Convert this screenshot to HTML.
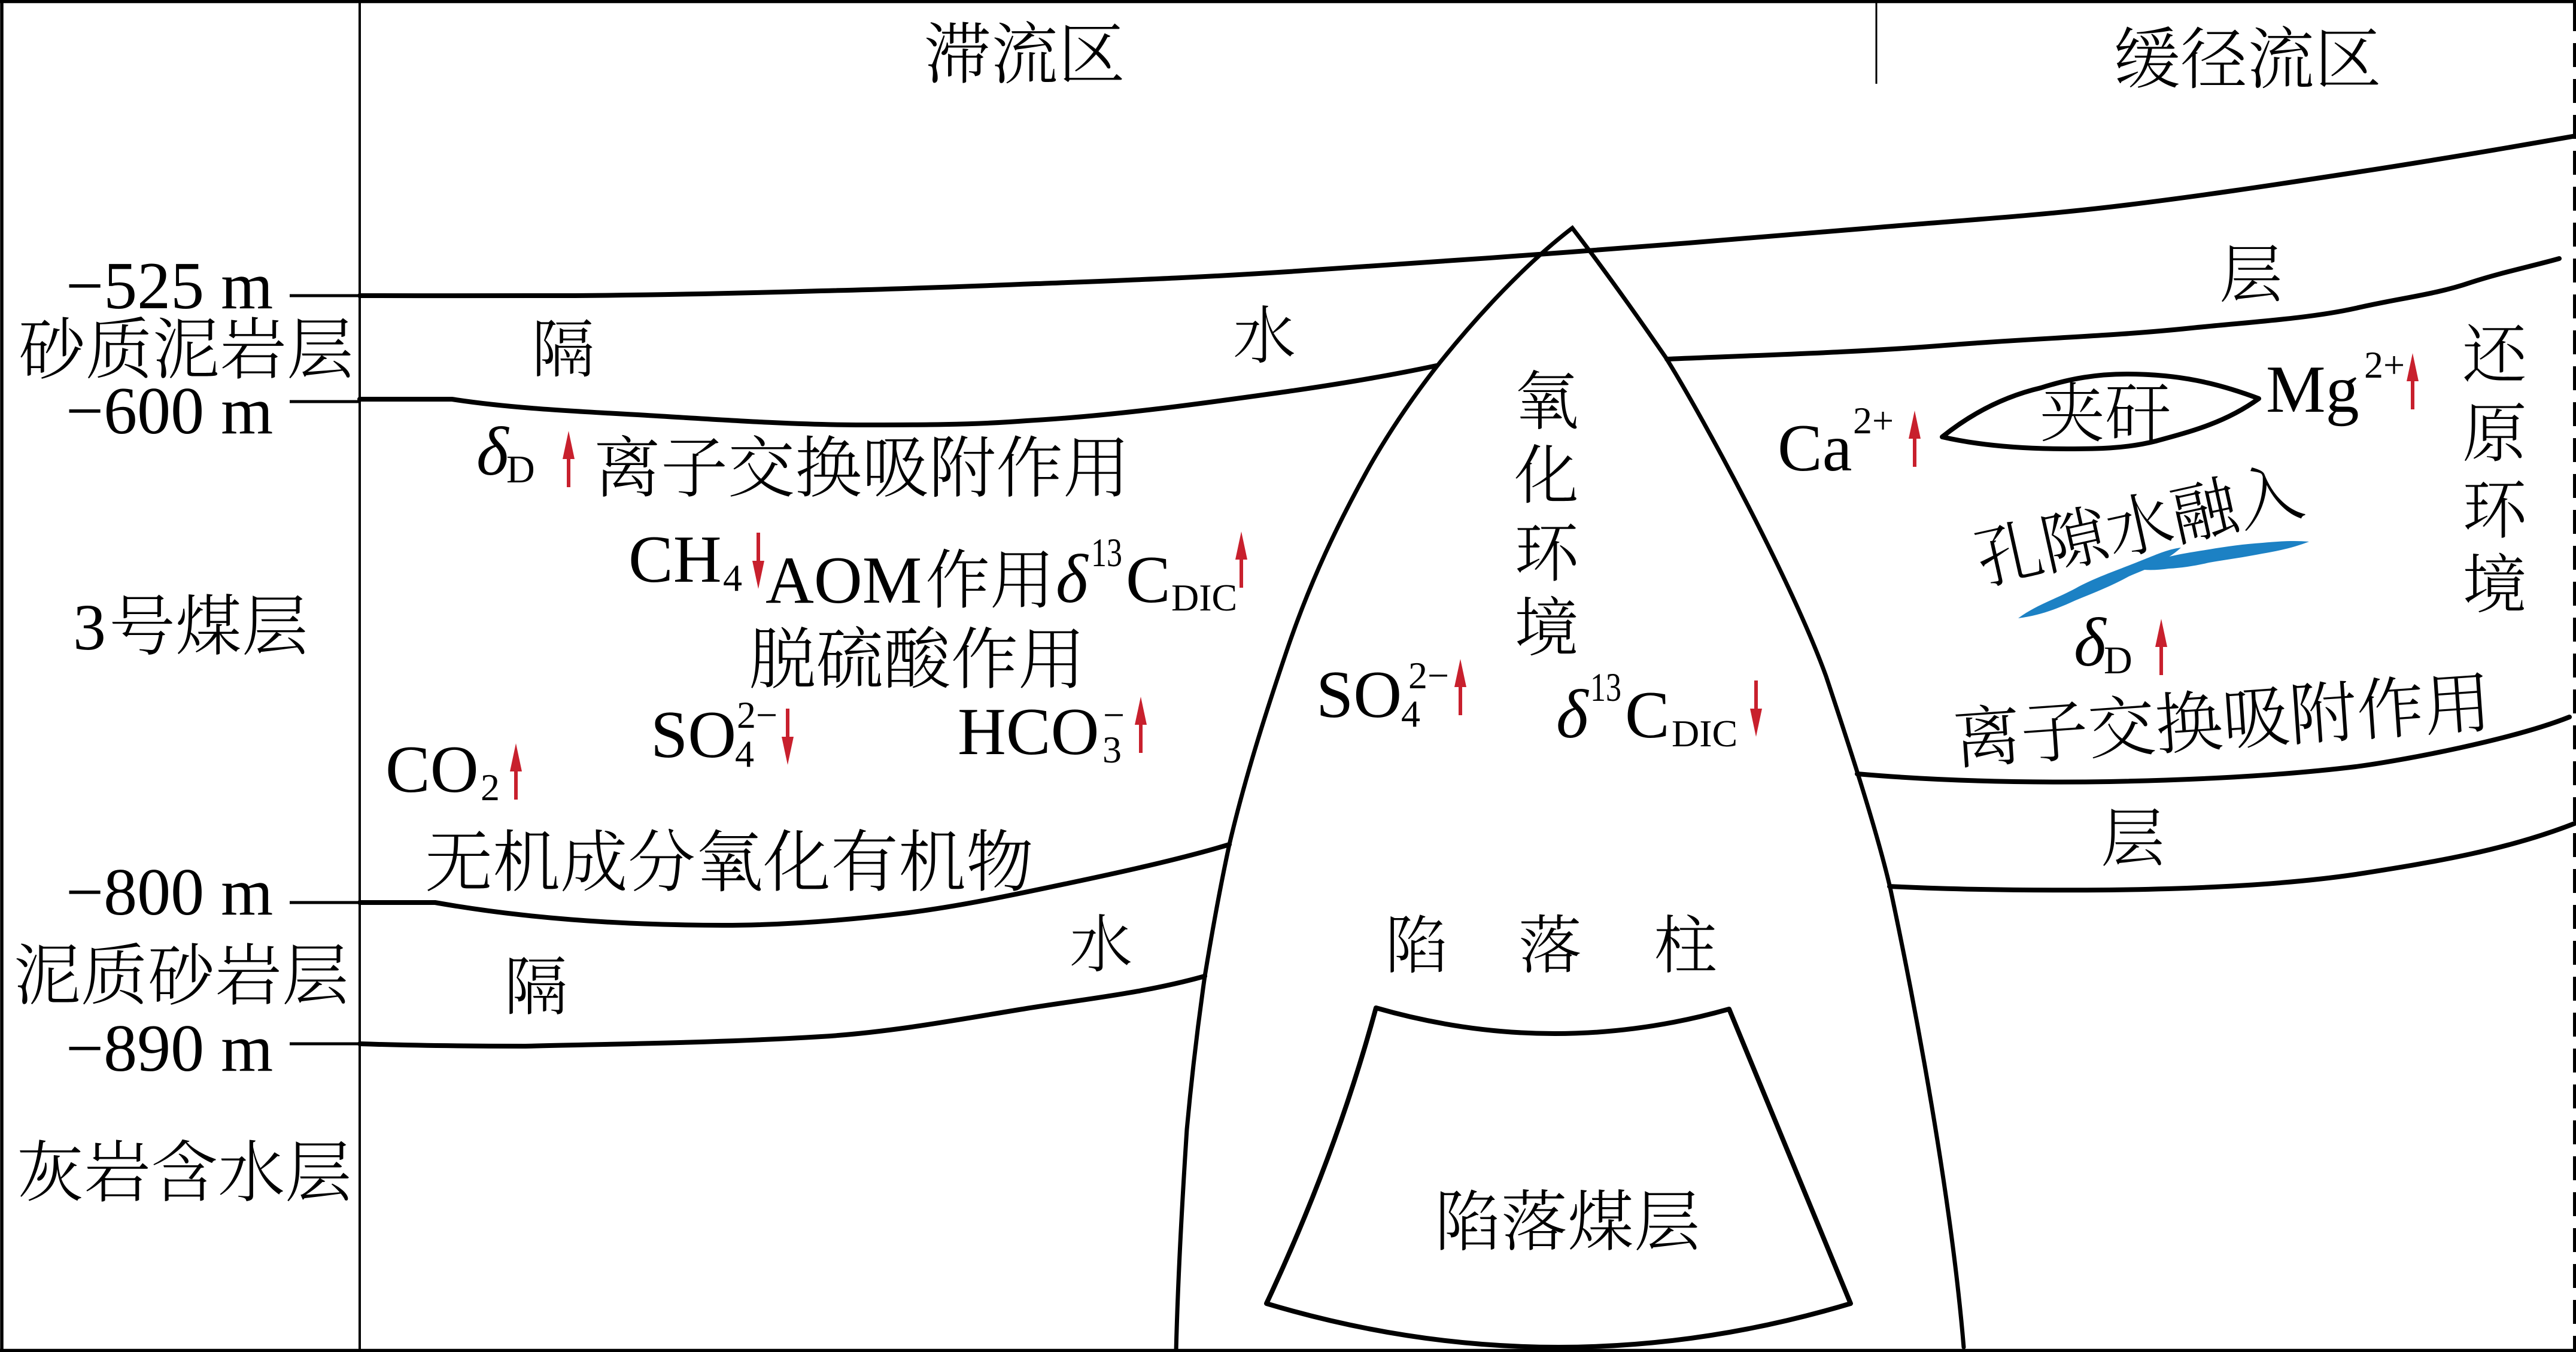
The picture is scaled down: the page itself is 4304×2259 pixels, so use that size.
<!DOCTYPE html>
<html><head><meta charset="utf-8">
<style>
html,body{margin:0;padding:0;background:#fff}
svg{display:block}
.c{font-family:"Noto Serif CJK SC","Liberation Serif",serif;font-weight:300;fill:#000}
.l{font-family:"Liberation Serif",serif;fill:#000}
.i{font-style:italic}
.s{fill:none;stroke:#000;stroke-width:8;stroke-linecap:round;stroke-linejoin:round}
.p{fill:none;stroke:#000;stroke-width:7;stroke-linecap:round;stroke-linejoin:miter;stroke-miterlimit:6}
</style></head><body>
<svg xmlns="http://www.w3.org/2000/svg" width="4304" height="2259" viewBox="0 0 4304 2259">
<defs>
<polygon id="u" fill="#c8202d" points="0,0 10,47 3,47 3,94 -3,94 -3,47 -10,47"/>
<polygon id="d" fill="#c8202d" points="0,94 10,47 3,47 3,0 -3,0 -3,47 -10,47"/>
</defs>
<rect width="4304" height="2259" fill="#fff"/>
<!-- frame -->
<path d="M3 0V2259M0 2.5H4304M0 2256.5H4304" stroke="#000" stroke-width="5.5" fill="none"/>
<path d="M4301.5 12V2259" stroke="#000" stroke-width="5" stroke-dasharray="40 20" fill="none"/>
<path d="M4301.5 0V52" stroke="#000" stroke-width="5" fill="none"/>
<path d="M601 0V2259" stroke="#000" stroke-width="4" fill="none"/>
<path d="M3135 0V140" stroke="#000" stroke-width="3" fill="none"/>
<!-- ticks -->
<path d="M484 494H601M484 671H601M484 1508H601M484 1744H601" stroke="#000" stroke-width="5" fill="none"/>
<!-- strata -->
<path class="s" d="M601 494C720 494 833 495 961 494C1089 493 1235 490 1372 486C1509 483 1654 477 1784 472C1914 467 2012 463 2152 454C2292 445 2465 433 2625 421C2785 409 2963 395 3113 382C3263 369 3387 362 3524 346C3661 330 3806 308 3936 288C4060 269 4190 247 4304 227"/>
<path class="s" d="M601 667H755C865 684 985 688 1098 695C1215 702 1330 710 1441 710C1535 710 1625 710 1715 703C1860 695 2010 674 2152 654C2235 642 2320 628 2400 611"/>
<path class="s" d="M2785 600C2950 593 3100 589 3250 577C3400 565 3530 562 3662 548C3760 538 3860 532 3936 515C4010 498 4070 492 4128 472C4180 455 4230 445 4276 432"/>
<path class="s" d="M3103 1293C3240 1305 3390 1308 3524 1306C3680 1303 3820 1295 3936 1281C4020 1270 4200 1235 4293 1198"/>
<path class="s" d="M3157 1481C3280 1487 3400 1488 3524 1487C3680 1485 3820 1478 3936 1461C4070 1440 4190 1420 4304 1375"/>
<path class="s" d="M601 1508H727C880 1535 1040 1546 1208 1546C1310 1546 1410 1538 1510 1526C1600 1515 1694 1495 1784 1476C1874 1457 1970 1436 2054 1411"/>
<path class="s" d="M601 1744C690 1747 790 1748 878 1748C1040 1744 1210 1742 1372 1732C1490 1725 1610 1702 1715 1685C1815 1669 1913 1659 2013 1631"/>
<!-- pillar -->
<path class="p" d="M1965 2258C1968 2135 1975 2010 1983 1887C1991 1800 2001 1715 2013 1631C2025 1558 2038 1485 2054 1411C2080 1300 2115 1190 2152 1081C2190 970 2235 875 2289 778C2325 715 2365 658 2400 613C2470 525 2550 440 2627 381C2680 450 2730 520 2783 597C2850 705 2995 975 3051 1130C3090 1247 3135 1385 3158 1483C3200 1680 3260 2000 3281 2251"/>
<path class="s" stroke-width="7" d="M2299 1684Q2595 1769 2889 1686L3092 2178Q2604 2324 2116 2178Q2232 1931 2299 1684Z"/>
<!-- lens -->
<path d="M3245 730C3295 690 3350 662 3410 648C3460 632 3505 625 3553 625C3640 625 3705 640 3774 666C3720 705 3665 720 3602 737C3550 750 3500 750 3454 750C3380 750 3310 745 3245 730Z" fill="none" stroke="#000" stroke-width="8" stroke-linejoin="round"/>
<!-- blue -->
<path fill="#1c81c4" d="M3372 1033C3400 1012 3430 1003 3468 983C3500 965 3540 952 3579 936C3600 928 3620 918 3644 915C3630 928 3615 936 3602 943C3590 950 3575 955 3557 963C3530 978 3500 990 3468 1003C3440 1016 3410 1028 3372 1033Z"/>
<path fill="#1c81c4" d="M3582 952L3620 931C3645 925 3665 922 3691 918C3720 913 3750 909 3780 907C3810 904 3835 903 3858 905C3835 914 3810 920 3780 925C3750 931 3720 935 3691 940C3670 945 3645 949 3624 950C3610 952 3595 953 3582 952Z"/>
<!-- arrows -->
<use href="#u" x="950" y="720"/><use href="#d" x="1267" y="890"/><use href="#u" x="2074" y="888"/>
<use href="#d" x="1316" y="1184"/><use href="#u" x="1906" y="1164"/><use href="#u" x="862" y="1242"/>
<use href="#u" x="2440" y="1101"/><use href="#d" x="2934" y="1137"/><use href="#u" x="3199" y="686"/>
<use href="#u" x="4031" y="590"/><use href="#u" x="3611" y="1034"/>
<!-- CJK -->
<g class="c">
<text x="1544" y="130" font-size="112">滞流区</text>
<text x="3531" y="138" font-size="112">缓径流区</text>
<text x="31" y="623" font-size="112">砂质泥岩层</text>
<text x="888" y="621" font-size="106">隔</text>
<text x="2060" y="598" font-size="105">水</text>
<text x="992" y="821" font-size="112">离子交换吸附作用</text>
<text x="1546" y="1007" font-size="108">作用</text>
<text x="182" y="1085" font-size="111">号煤层</text>
<text x="1251" y="1141" font-size="112.5">脱硫酸作用</text>
<text x="710" y="1480" font-size="113">无机成分氧化有机物</text>
<text x="23" y="1669" font-size="112">泥质砂岩层</text>
<text x="842" y="1686" font-size="107">隔</text>
<text x="1787" y="1615" font-size="105">水</text>
<text x="28" y="1998" font-size="112">灰岩含水层</text>
<text x="2530" y="708" font-size="108">氧</text>
<text x="2530" y="832" font-size="108">化</text>
<text x="2530" y="962" font-size="108">环</text>
<text x="2530" y="1087" font-size="108">境</text>
<text x="3708" y="496" font-size="106">层</text>
<text x="4114" y="630" font-size="108">还</text>
<text x="4114" y="762" font-size="108">原</text>
<text x="4114" y="890" font-size="108">环</text>
<text x="4114" y="1015" font-size="108">境</text>
<text x="3408" y="729" font-size="109">夹矸</text>
<text transform="translate(3312 976) rotate(-12.5)" font-size="111">孔隙水融入</text>
<text transform="translate(3267 1275) rotate(-4)" font-size="112.5">离子交换吸附作用</text>
<text x="2314" y="1617" font-size="106">陷</text>
<text x="2537" y="1617" font-size="106">落</text>
<text x="2763" y="1617" font-size="106">柱</text>
<text x="2397" y="2080" font-size="111">陷落煤层</text>
<text x="3510" y="1438" font-size="107">层</text>
</g>
<!-- Latin -->
<g class="l">
<text x="110" y="515" font-size="112">−525 m</text>
<text x="110" y="724" font-size="112">−600 m</text>
<text x="110" y="1528" font-size="112">−800 m</text>
<text x="110" y="1789" font-size="112">−890 m</text>
<text x="122" y="1085" font-size="110">3</text>
<text class="i" x="796" y="793" font-size="115">δ</text><text x="846" y="806" font-size="66">D</text>
<text x="1050" y="972" font-size="112">CH</text><text x="1208" y="987" font-size="64">4</text>
<text x="1279" y="1007" font-size="112">AOM</text>
<text class="i" x="1764" y="1006" font-size="115">δ</text><text x="1823" y="946" font-size="68" textLength="52" lengthAdjust="spacingAndGlyphs">13</text>
<text x="1881" y="1006" font-size="112">C</text><text x="1957" y="1020" font-size="64">DIC</text>
<text x="1087" y="1265" font-size="112">SO</text><text x="1228" y="1281" font-size="64">4</text><text x="1231" y="1216" font-size="64">2−</text>
<text x="1600" y="1260" font-size="112">HCO</text><text x="1842" y="1274" font-size="64">3</text><text x="1843" y="1216" font-size="64">−</text>
<text x="644" y="1323" font-size="112">CO</text><text x="803" y="1337" font-size="64">2</text>
<text x="2199" y="1198" font-size="112">SO</text><text x="2341" y="1214" font-size="64">4</text><text x="2353" y="1150" font-size="64">2−</text>
<text class="i" x="2600" y="1232" font-size="115">δ</text><text x="2657" y="1171" font-size="68" textLength="52" lengthAdjust="spacingAndGlyphs">13</text>
<text x="2715" y="1232" font-size="112">C</text><text x="2793" y="1247" font-size="64">DIC</text>
<text x="2970" y="786" font-size="112">Ca</text><text x="3096" y="724" font-size="64">2+</text>
<text x="3786" y="688" font-size="112">Mg</text><text x="3950" y="631" font-size="64">2+</text>
<text class="i" x="3465" y="1112" font-size="115">δ</text><text x="3515" y="1125" font-size="66">D</text>
</g>
</svg>
</body></html>
